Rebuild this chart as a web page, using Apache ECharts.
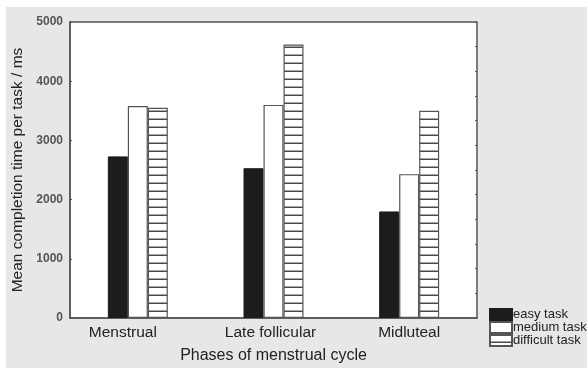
<!DOCTYPE html>
<html>
<head>
<meta charset="utf-8">
<script src="https://cdn.jsdelivr.net/npm/echarts@6/dist/echarts.min.js"></script>
<style>
html, body { margin: 0; padding: 0; background: #fff; }
#chart { width: 587px; height: 369px; }
</style>
</head>
<body>
<div id="chart"></div>
<script>
// 月经周期各阶段平均完成时间
var phases = ['Menstrual', 'Late follicular', 'Midluteal'];
var easyTask = [2730, 2530, 1800];
var mediumTask = [3580, 3600, 2430];
var difficultTask = [3550, 4620, 3500];
var yTicks = [0, 1000, 2000, 3000, 4000, 5000];

(function(){

    var chart = echarts.init(document.getElementById('chart'));

    // 横线填充
    var hatch = document.createElement('canvas');
    hatch.width = 8;
    hatch.height = 8;
    var ctx = hatch.getContext('2d');
    ctx.fillStyle = '#fff';
    ctx.fillRect(0, 0, 8, 8);
    ctx.fillStyle = '#4a4a4a';
    ctx.fillRect(0, 6.5, 8, 1.5);

    var labelPad = { 'Menstrual': 30, 'Late follicular': 6, 'Midluteal': 0 };

    var option = {
        animation: false,
        textStyle: { fontFamily: 'Liberation Sans, Arial, sans-serif' },
        graphic: [{
            type: 'rect',
            left: 6, top: 7,
            shape: { width: 581, height: 361 },
            style: { fill: '#e6e7e8' },
            z: -10
        }],
        grid: {
            left: 70, top: 22, right: 110, bottom: 47,
            show: true,
            backgroundColor: '#fff',
            borderColor: '#555',
            borderWidth: 1.5
        },
        legend: {
            orient: 'vertical',
            left: 484, top: 303,
            icon: 'rect',
            itemWidth: 22, itemHeight: 11, itemGap: 0,
            textStyle: { fontSize: 13, color: '#222', padding: [0, 0, 0, -4] },
            data: ['easy task', 'medium task', 'difficult task']
        },
        xAxis: [{
            type: 'category',
            data: phases.map(function (p) {
                return { value: p, textStyle: { padding: [0, labelPad[p], 0, 0] } };
            }),
            name: 'Phases of menstrual cycle',
            nameLocation: 'middle',
            nameGap: 30,
            nameTextStyle: { fontSize: 16, color: '#222' },
            axisLine: { lineStyle: { color: '#555', width: 1.5 } },
            axisTick: { alignWithLabel: true, inside: true, length: 2, lineStyle: { color: '#555' } },
            axisLabel: { fontSize: 15.5, color: '#222', margin: 7 }
        }, {
            type: 'category',
            position: 'top',
            data: phases,
            axisLine: { show: false },
            axisTick: { alignWithLabel: true, inside: true, length: 2, lineStyle: { color: '#555' } },
            axisLabel: { show: false }
        }],
        yAxis: [{
            type: 'value',
            min: yTicks[0],
            max: yTicks[yTicks.length - 1],
            interval: 1000,
            name: 'Mean completion time per task / ms',
            nameLocation: 'middle',
            nameGap: 41,
            nameTextStyle: { fontSize: 15.5, color: '#222' },
            axisLine: { show: true, lineStyle: { color: '#555', width: 1.5 } },
            axisTick: { show: true, inside: true, length: 2, lineStyle: { color: '#555' } },
            axisLabel: {
                fontSize: 12, fontWeight: 'bold', color: '#555', margin: 7,
                formatter: function (v) { return String(v); }
            },
            splitLine: { show: false }
        }, {
            type: 'value',
            position: 'right',
            min: 0, max: 12, interval: 1,
            axisLine: { show: false },
            axisTick: { show: true, inside: true, length: 2, lineStyle: { color: '#555' } },
            axisLabel: { show: false },
            splitLine: { show: false }
        }],
        series: [{
            name: 'easy task',
            type: 'bar',
            barWidth: 20,
            barGap: '0%',
            itemStyle: { color: '#1c1c1c', borderColor: '#1c1c1c', borderWidth: 1 },
            data: easyTask
        }, {
            name: 'medium task',
            type: 'bar',
            barWidth: 20,
            barGap: '0%',
            itemStyle: { color: '#fff', borderColor: '#555', borderWidth: 1.2 },
            data: mediumTask
        }, {
            name: 'difficult task',
            type: 'bar',
            barWidth: 20,
            barGap: '0%',
            itemStyle: { color: { image: hatch, repeat: 'repeat' }, borderColor: '#555', borderWidth: 1.2 },
            data: difficultTask
        }]
    };

    chart.setOption(option);
})();
</script>
</body>
</html>
